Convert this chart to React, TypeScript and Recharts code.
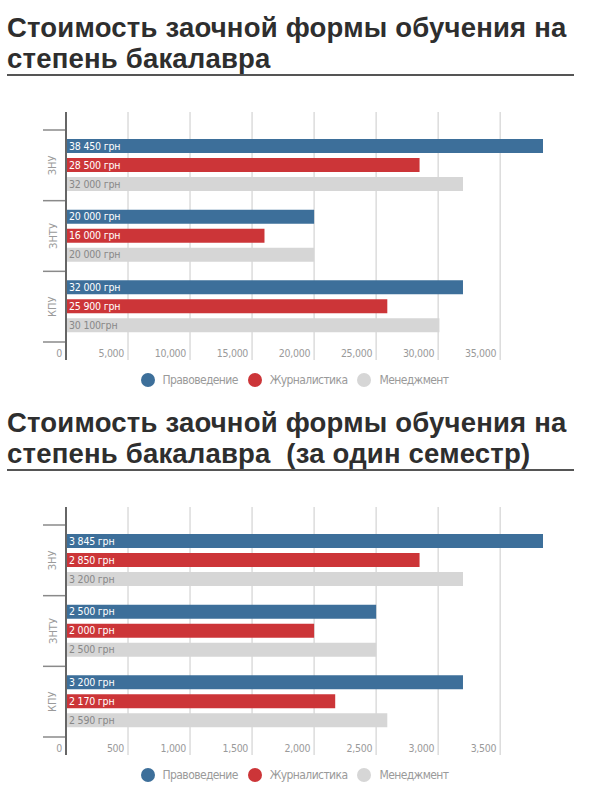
import { BarChart, Bar, XAxis, YAxis, CartesianGrid, Legend, LabelList } from "recharts"

const universities = ["ЗНУ", "ЗНТУ", "КПУ"]

// yearly cost, грн
const lawYear = [38450, 20000, 32000]
const journalismYear = [28500, 16000, 25900]
const managementYear = [32000, 20000, 30100]
const lawYearLabels = ["38 450 грн", "20 000 грн", "32 000 грн"]
const journalismYearLabels = ["28 500 грн", "16 000 грн", "25 900 грн"]
const managementYearLabels = ["32 000 грн", "20 000 грн", "30 100грн"]
const yearTicks = [0, 5000, 10000, 15000, 20000, 25000, 30000, 35000]

// per semester
const lawSem = [3845, 2500, 3200]
const journalismSem = [2850, 2000, 2170]
const managementSem = [3200, 2500, 2590]
const lawSemLabels = ["3 845 грн", "2 500 грн", "3 200 грн"]
const journalismSemLabels = ["2 850 грн", "2 000 грн", "2 170 грн"]
const managementSemLabels = ["3 200 грн", "2 500 грн", "2 590 грн"]
const semTicks = [0, 500, 1000, 1500, 2000, 2500, 3000, 3500]

const seriesNames = ["Правоведение", "Журналистика", "Менеджмент"]

const BLUE = "#3d6f9a"
const RED = "#cc3538"
const GREY = "#d6d6d6"
const NARROW = "'Liberation Sans Narrow', 'DejaVu Sans Condensed', Roboto, sans-serif"

const PLOT_H = 248
const CAT_PAD = 18
const BAND = (PLOT_H - 2 * CAT_PAD) / universities.length

function buildRows(law: number[], jour: number[], mgmt: number[], lawL: string[], jourL: string[], mgmtL: string[]) {
  return universities.map((name, i) => ({
    name,
    law: law[i],
    journalism: jour[i],
    management: mgmt[i],
    lawLabel: lawL[i],
    journalismLabel: jourL[i],
    managementLabel: mgmtL[i],
  }))
}

const yearRows = buildRows(lawYear, journalismYear, managementYear, lawYearLabels, journalismYearLabels, managementYearLabels)
const semRows = buildRows(lawSem, journalismSem, managementSem, lawSemLabels, journalismSemLabels, managementSemLabels)

function XTick(props: any) {
  const { x, y, payload } = props
  return (
    <text x={x - 4} y={y - 3} textAnchor="end" fill="#9a9a9a" fontSize={10.5} letterSpacing={-0.3} fontFamily={NARROW}>
      {Number(payload.value).toLocaleString("en-US")}
    </text>
  )
}

function YTick(props: any) {
  const { y, payload, index } = props
  const last = index === universities.length - 1
  return (
    <g>
      <line x1={43} x2={65} y1={y - BAND / 2} y2={y - BAND / 2} stroke="#8a8a8a" strokeWidth={1.5} />
      {last && <line x1={43} x2={65} y1={y + BAND / 2} y2={y + BAND / 2} stroke="#8a8a8a" strokeWidth={1.5} />}
      <text
        x={53}
        y={y}
        transform={`rotate(-90, 53, ${y})`}
        textAnchor="middle"
        dominantBaseline="central"
        fill="#9a9a9a"
        fontSize={11}
        fontFamily={NARROW}
      >
        {payload.value}
      </text>
    </g>
  )
}

function LegendContent() {
  const colors = [BLUE, RED, GREY]
  return (
    <div style={{ display: "flex", justifyContent: "center", alignItems: "center", height: 24 }}>
      {seriesNames.map((n, i) => (
        <div key={n} style={{ display: "flex", alignItems: "center", marginRight: i < 2 ? 10 : 0 }}>
          <span style={{ width: 14, height: 14, borderRadius: 7, background: colors[i], display: "inline-block", marginRight: 8 }} />
          <span style={{ color: "#9a9a9a", fontSize: 12, letterSpacing: -0.6, fontFamily: NARROW }}>{n}</span>
        </div>
      ))}
    </div>
  )
}

function Section({ top, lines, rows, ticks }: { top: number; lines: string[]; rows: any[]; ticks: number[] }) {
  const titleLine = {
    height: 31,
    lineHeight: "31px",
    whiteSpace: "pre" as const,
  }
  return (
    <div style={{ position: "absolute", left: 0, top, width: 589, height: 395 }}>
      <div
        style={{
          position: "absolute",
          left: 7,
          top: 12,
          width: 567,
          fontFamily: "'Liberation Sans', Arial, sans-serif",
          fontWeight: 700,
          fontSize: 27.5,
          letterSpacing: 0.2,
          color: "#2e2e2e",
          borderBottom: "2px solid #555",
        }}
      >
        <div style={titleLine}>{lines[0]}</div>
        <div style={titleLine}>{lines[1]}</div>
      </div>
      <div style={{ position: "absolute", left: 0, top: 100 }}>
        <BarChart
          layout="vertical"
          width={589}
          height={300}
          data={rows}
          margin={{ top: 12, right: 46, left: 0, bottom: 8 }}
          barSize={14}
          barGap={5}
        >
          <CartesianGrid horizontal={false} verticalValues={ticks} stroke="#dcdcdc" strokeWidth={1.5} />
          <XAxis
            type="number"
            domain={[0, "dataMax"]}
            ticks={ticks}
            interval={0}
            axisLine={false}
            tickLine={false}
            tickSize={0}
            tickMargin={0}
            height={8}
            tick={<XTick />}
          />
          <YAxis
            type="category"
            dataKey="name"
            width={66}
            padding={{ top: CAT_PAD, bottom: CAT_PAD }}
            axisLine={{ stroke: "#666", strokeWidth: 2 }}
            tickLine={false}
            interval={0}
            tick={<YTick />}
          />
          <Legend verticalAlign="bottom" content={<LegendContent />} wrapperStyle={{ left: 0, width: 589 }} />
          <Bar dataKey="law" name={seriesNames[0]} fill={BLUE} isAnimationActive={false}>
            <LabelList dataKey="lawLabel" position="insideLeft" offset={3} fill="#fff" fontSize={10.5} letterSpacing={-0.2} fontFamily={NARROW} />
          </Bar>
          <Bar dataKey="journalism" name={seriesNames[1]} fill={RED} isAnimationActive={false}>
            <LabelList dataKey="journalismLabel" position="insideLeft" offset={3} fill="#fff" fontSize={10.5} letterSpacing={-0.2} fontFamily={NARROW} />
          </Bar>
          <Bar dataKey="management" name={seriesNames[2]} fill={GREY} isAnimationActive={false}>
            <LabelList dataKey="managementLabel" position="insideLeft" offset={3} fill="#888" fontSize={10.5} letterSpacing={-0.2} fontFamily={NARROW} />
          </Bar>
        </BarChart>
      </div>
    </div>
  )
}

export default function App() {
  return (
    <div style={{ position: "absolute", left: 0, top: 0, width: 589, height: 800, background: "#fff" }}>
      <Section
        top={0}
        lines={["Стоимость заочной формы обучения на", "степень бакалавра"]}
        rows={yearRows}
        ticks={yearTicks}
      />
      <Section
        top={395}
        lines={["Стоимость заочной формы обучения на", "степень бакалавра  (за один семестр)"]}
        rows={semRows}
        ticks={semTicks}
      />
    </div>
  )
}
